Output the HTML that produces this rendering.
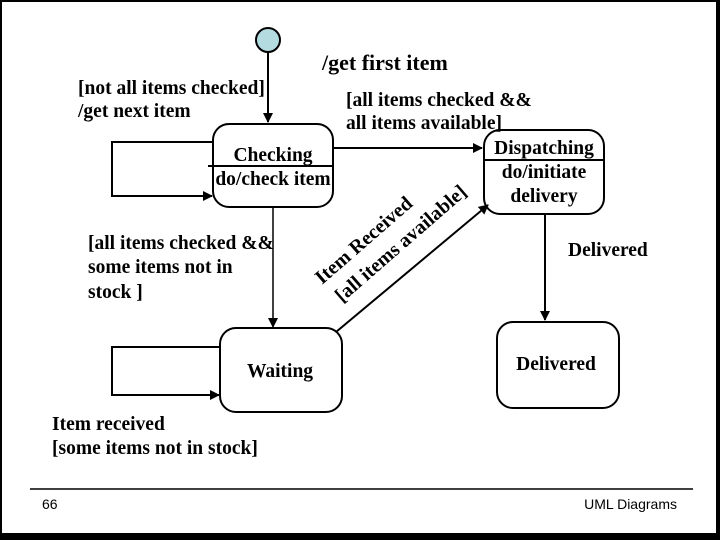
<!DOCTYPE html>
<html><head><meta charset="utf-8"><style>
html,body{margin:0;padding:0;background:#fff}
svg{display:block}
text{font-family:"Liberation Serif",serif;font-weight:bold;font-size:19.5px;fill:#000}
</style></head><body>
<svg width="720" height="540" viewBox="0 0 720 540" xmlns="http://www.w3.org/2000/svg">
<defs><marker id="a" markerWidth="10" markerHeight="10" refX="9" refY="5" orient="auto" markerUnits="userSpaceOnUse"><path d="M0,0 L10,5 L0,10 z" fill="#000"/></marker></defs>
<rect x="0" y="0" width="720" height="540" fill="#000"/>
<rect x="2" y="2" width="714" height="531" fill="#fff"/>
<g stroke="#000" stroke-width="2" fill="none">
<circle cx="268" cy="40" r="12" fill="#b4dce0"/>
<line x1="268" y1="52" x2="268" y2="122" marker-end="url(#a)"/>
<rect x="213" y="124" width="120" height="83" rx="16"/>
<line x1="208" y1="166" x2="333" y2="166"/>
<polyline points="213,142 112,142 112,196 212,196" marker-end="url(#a)"/>
<line x1="333" y1="148" x2="482" y2="148" marker-end="url(#a)"/>
<rect x="484" y="130" width="120" height="84" rx="16"/>
<line x1="484" y1="160" x2="604" y2="160"/>
<line x1="273" y1="207" x2="273" y2="327" stroke-width="1.5" marker-end="url(#a)"/>
<rect x="220" y="328" width="122" height="84" rx="16"/>
<polyline points="220,347 112,347 112,395 219,395" marker-end="url(#a)"/>
<line x1="336" y1="332" x2="488" y2="205" marker-end="url(#a)"/>
<line x1="545" y1="214" x2="545" y2="320" marker-end="url(#a)"/>
<rect x="497" y="322" width="122" height="86" rx="16"/>
<line x1="30" y1="489" x2="693" y2="489" stroke-width="1.5"/>
</g>
<text x="322" y="70" style="font-size:22px">/get first item</text>
<text x="78" y="94">[not all items checked]</text>
<text x="78" y="117">/get next item</text>
<text x="346" y="106">[all items checked &amp;&amp;</text>
<text x="346" y="129">all items available]</text>
<text x="273" y="161" text-anchor="middle">Checking</text>
<text x="273" y="185" text-anchor="middle">do/check item</text>
<text x="544" y="154" text-anchor="middle">Dispatching</text>
<text x="544" y="178" text-anchor="middle">do/initiate</text>
<text x="544" y="202" text-anchor="middle">delivery</text>
<text x="88" y="249">[all items checked &amp;&amp;</text>
<text x="88" y="273">some items not in</text>
<text x="88" y="298">stock ]</text>
<text x="568" y="256">Delivered</text>
<text x="280" y="377" text-anchor="middle">Waiting</text>
<text x="556" y="370" text-anchor="middle">Delivered</text>
<text x="52" y="430">Item received</text>
<text x="52" y="454">[some items not in stock]</text>
<text transform="translate(322,285) rotate(-41)" style="font-size:20px">Item Received</text>
<text transform="translate(342,303) rotate(-41)" style="font-size:20px">[all items available]</text>
<text x="42" y="509" style="font-family:'Liberation Sans',sans-serif;font-weight:normal;font-size:14px">66</text>
<text x="677" y="509" text-anchor="end" style="font-family:'Liberation Sans',sans-serif;font-weight:normal;font-size:14px">UML Diagrams</text>
</svg>
</body></html>
